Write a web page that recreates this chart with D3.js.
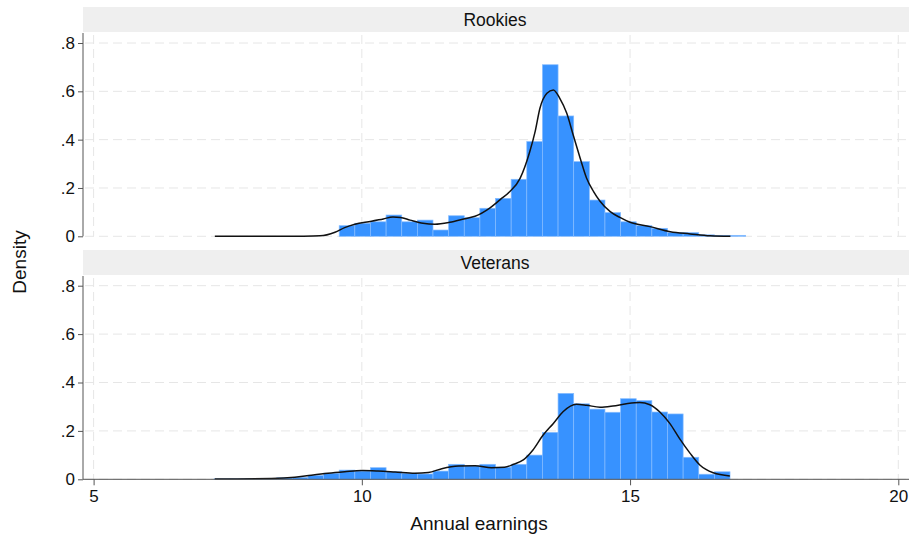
<!DOCTYPE html>
<html>
<head>
<meta charset="utf-8">
<script src="https://cdn.jsdelivr.net/npm/d3@7"></script>
<style>
  html, body { margin: 0; padding: 0; background: #fff; }
  svg { display: block; font-family: "Liberation Sans", Arial, sans-serif; }
</style>
</head>
<body>
<svg id="chart" width="909" height="542"></svg>
<script>
// Histogram bins shared by both groups (annual earnings, log scale)
const binStart = 7.247;
const binWidth = 0.2914;

// Rookies: first bin index on the shared grid, then densities
const rookieFirstBin = 8;
const rookieDensity = [
  0.044, 0.054, 0.060, 0.088, 0.060, 0.067, 0.026, 0.085, 0.077, 0.116,
  0.157, 0.236, 0.392, 0.710, 0.498, 0.309, 0.150, 0.098, 0.060, 0.044,
  0.033, 0.015, 0.015, 0.006, 0.004, 0.004
];

// Veterans: densities from the first bin
const veteranFirstBin = 0;
const veteranDensity = [
  0.002, 0.002, 0.003, 0.004, 0.006, 0.008, 0.016, 0.025, 0.038, 0.034,
  0.048, 0.031, 0.025, 0.022, 0.034, 0.062, 0.055, 0.062, 0.050, 0.062,
  0.100, 0.194, 0.355, 0.312, 0.290, 0.277, 0.333, 0.325, 0.278, 0.270,
  0.091, 0.021, 0.031
];

// Kernel density estimates: [earnings, density]
const rookieKde = [
  [7.26, 0], [8.5, 0], [8.85, 0.0005], [9.22, 0.002], [9.5, 0.017],
  [9.68, 0.036], [9.87, 0.050], [10.18, 0.062], [10.4, 0.072], [10.58, 0.080],
  [10.72, 0.078], [10.9, 0.067], [11.14, 0.054], [11.36, 0.050], [11.64, 0.058],
  [11.92, 0.073], [12.11, 0.083], [12.39, 0.118], [12.58, 0.152], [12.76, 0.185],
  [12.95, 0.240], [13.13, 0.350], [13.23, 0.433], [13.32, 0.530], [13.45, 0.592],
  [13.57, 0.606], [13.69, 0.571], [13.82, 0.509], [13.94, 0.419], [14.07, 0.323],
  [14.19, 0.240], [14.32, 0.185], [14.44, 0.145], [14.63, 0.102], [14.81, 0.078],
  [15.0, 0.058], [15.37, 0.040], [15.75, 0.019], [16.12, 0.010], [16.49, 0.002],
  [16.87, 0.0]
];

const veteranKde = [
  [7.26, 0.001], [8.32, 0.003], [8.75, 0.008], [9.06, 0.017], [9.37, 0.025],
  [9.68, 0.031], [10.0, 0.036], [10.3, 0.034], [10.62, 0.030], [10.99, 0.025],
  [11.24, 0.028], [11.49, 0.044], [11.8, 0.055], [12.11, 0.056], [12.42, 0.048],
  [12.66, 0.050], [12.83, 0.062], [13.01, 0.080], [13.19, 0.121], [13.38, 0.183],
  [13.57, 0.231], [13.75, 0.279], [14.0, 0.310], [14.19, 0.306], [14.44, 0.298],
  [14.68, 0.303], [14.93, 0.312], [15.18, 0.317], [15.37, 0.308], [15.55, 0.279],
  [15.74, 0.231], [15.92, 0.169], [16.12, 0.107], [16.3, 0.059], [16.55, 0.027],
  [16.86, 0.014]
];

const xTicks = [5, 10, 15, 20];
const yTicks = [0, 0.2, 0.4, 0.6, 0.8];
const panelTitles = ["Rookies", "Veterans"];
const xTitle = "Annual earnings";
const yTitle = "Density";

const svg = d3.select("#chart");
const left = 83, right = 909;
const font = "Liberation Sans, Arial, sans-serif";

const x = d3.scaleLinear().domain([5, 20]).range([93.6, 898.3]);

const panels = [
  { title: panelTitles[0], stripTop: 7, plotTop: 33, y: d3.scaleLinear().domain([0, 0.8]).range([236.3, 43]),
    first: rookieFirstBin, dens: rookieDensity, kde: rookieKde, bottomAxis: false },
  { title: panelTitles[1], stripTop: 250, plotTop: 276, y: d3.scaleLinear().domain([0, 0.8]).range([479.3, 285.7]),
    first: veteranFirstBin, dens: veteranDensity, kde: veteranKde, bottomAxis: true }
];

const fmtY = d => d === 0 ? "0" : d3.format(".1f")(d).replace(/^0/, "");

panels.forEach(p => {
  const g = svg.append("g");
  const y = p.y;
  const yBottom = y(0);

  // strip header
  g.append("rect")
    .attr("x", left).attr("y", p.stripTop)
    .attr("width", right - left).attr("height", 25)
    .attr("fill", "#efefef");
  g.append("text")
    .attr("x", (left + right) / 2 - 1).attr("y", p.stripTop + 19)
    .attr("text-anchor", "middle")
    .attr("font-size", 17.5).attr("fill", "#111")
    .text(p.title);

  // grid
  const grid = g.append("g")
    .attr("stroke", "#e6e6e6").attr("stroke-width", 1)
    .attr("stroke-dasharray", "9,5");
  grid.selectAll("line.h").data(yTicks).join("line")
    .attr("x1", left + 2).attr("x2", right)
    .attr("y1", d => y(d)).attr("y2", d => y(d));
  grid.selectAll("line.v").data(xTicks).join("line")
    .attr("x1", d => x(d)).attr("x2", d => x(d))
    .attr("y1", p.plotTop + 2).attr("y2", yBottom);

  // histogram bars
  g.append("g").selectAll("rect").data(p.dens).join("rect")
    .attr("x", (d, i) => x(binStart + (p.first + i) * binWidth))
    .attr("width", (d, i) => x(binStart + (p.first + i + 1) * binWidth) - x(binStart + (p.first + i) * binWidth))
    .attr("y", d => y(d))
    .attr("height", d => yBottom - y(d))
    .attr("fill", "#3792ff")
    .attr("stroke", "#86bcff")
    .attr("stroke-width", 0.7);

  // density curve
  const line = d3.line()
    .x(d => x(d[0])).y(d => y(d[1]))
    .curve(d3.curveMonotoneX);
  g.append("path")
    .datum(p.kde)
    .attr("d", line)
    .attr("fill", "none")
    .attr("stroke", "#111")
    .attr("stroke-width", 1.5);

  // y axis
  const ya = g.append("g")
    .attr("transform", `translate(${left},0)`)
    .call(d3.axisLeft(y).tickValues(yTicks).tickFormat(fmtY).tickSize(5).tickPadding(3));
  ya.select(".domain").attr("d", `M0,${p.plotTop}V${yBottom}`).attr("stroke", "#555");
  ya.selectAll(".tick line").attr("stroke", "#555");
  ya.selectAll(".tick text").attr("font-size", 17).attr("fill", "#111")
    .attr("font-family", font);

  if (p.bottomAxis) {
    const xa = g.append("g")
      .attr("transform", `translate(0,${yBottom})`)
      .call(d3.axisBottom(x).tickValues(xTicks).tickFormat(d3.format("d")).tickSize(6).tickPadding(5));
    xa.select(".domain").attr("d", `M${left},0H${right}`).attr("stroke", "#555");
    xa.selectAll(".tick line").attr("stroke", "#555");
    xa.selectAll(".tick text").attr("font-size", 17).attr("fill", "#111")
      .attr("font-family", font);
  }
});

// axis titles
svg.append("text")
  .attr("x", 479).attr("y", 530)
  .attr("text-anchor", "middle").attr("font-size", 19).attr("fill", "#111")
  .text(xTitle);
svg.append("text")
  .attr("transform", "translate(26,262) rotate(-90)")
  .attr("text-anchor", "middle").attr("font-size", 19).attr("fill", "#111")
  .text(yTitle);
</script>
</body>
</html>
